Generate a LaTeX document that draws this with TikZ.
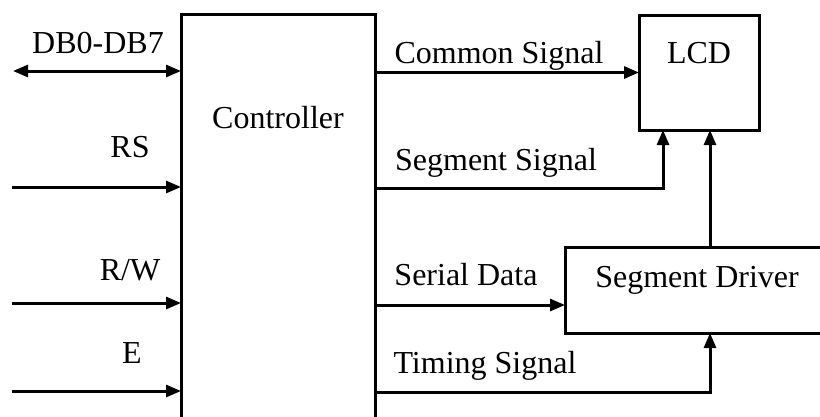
\documentclass[tikz,border=0pt]{standalone}
\usepackage{fontspec}
\setmainfont{Liberation Serif}
\usetikzlibrary{arrows.meta}
\begin{document}
\begin{tikzpicture}[x=1pt,y=-1pt,
  font=\fontsize{32}{37}\selectfont,
  blk/.style={draw,line width=3pt,inner sep=0pt,outer sep=0pt,anchor=north west},
  sig/.style={line width=3pt,-{Triangle[length=15pt,width=12pt]}},
  bus/.style={line width=3pt,{Triangle[length=15pt,width=12pt]}-{Triangle[length=15pt,width=12pt]}},
  lbl/.style={anchor=base,inner sep=0pt}]
\useasboundingbox (0,0) rectangle (820,416);
\clip (0,0) rectangle (820,416);

% blocks
\node[blk,minimum width=194pt,minimum height=430pt] (ctrl) at (181,14) {};
\node[blk,minimum width=120pt,minimum height=115pt] (lcd) at (639,15) {};
\node[blk,minimum width=270pt,minimum height=86pt] (drv) at (565,247) {};

% block titles
\node[lbl] (ctrlname) at (278,128) {Controller};
\node[lbl] (lcdname) at (699,63) {LCD};
\node[lbl] (drvname) at (697,287) {Segment Driver};

% interface inputs
\coordinate (dbin) at (13,71);
\coordinate (rsin) at (12,187);
\coordinate (rwin) at (12,303);
\coordinate (ein)  at (12,391);
\draw[bus] (dbin) -- (dbin -| ctrl.west);
\draw[sig] (rsin) -- (rsin -| ctrl.west);
\draw[sig] (rwin) -- (rwin -| ctrl.west);
\draw[sig] (ein)  -- (ein -| ctrl.west);
\node[lbl] (dblbl) at (98,53) {DB0-DB7};
\node[lbl] (rslbl) at (130,157) {RS};
\node[lbl] (rwlbl) at (130,280) {R/W};
\node[lbl] (elbl)  at (132,363) {E};

% controller outputs
\coordinate (segy) at (0,188);
\coordinate (sery) at (0,305);
\coordinate (timy) at (0,392);
\coordinate (segx) at (663,0);
\coordinate (tapx) at (710,0);
\draw[sig] (lcd.west -| ctrl.east) -- (lcd.west);
\draw[sig] (ctrl.east |- segy) -| (segx |- lcd.south);
\draw[sig] (ctrl.east |- sery) -- (drv.west |- sery);
\draw[sig] (ctrl.east |- timy) -| (tapx |- drv.south);
\draw[sig] (tapx |- drv.north) -- (tapx |- lcd.south);
\node[lbl] (comlbl) at (499,63) {Common Signal};
\node[lbl] (seglbl) at (496,170) {Segment Signal};
\node[lbl] (serlbl) at (466,285) {Serial Data};
\node[lbl] (timlbl) at (485,373) {Timing Signal};
\end{tikzpicture}
\end{document}
